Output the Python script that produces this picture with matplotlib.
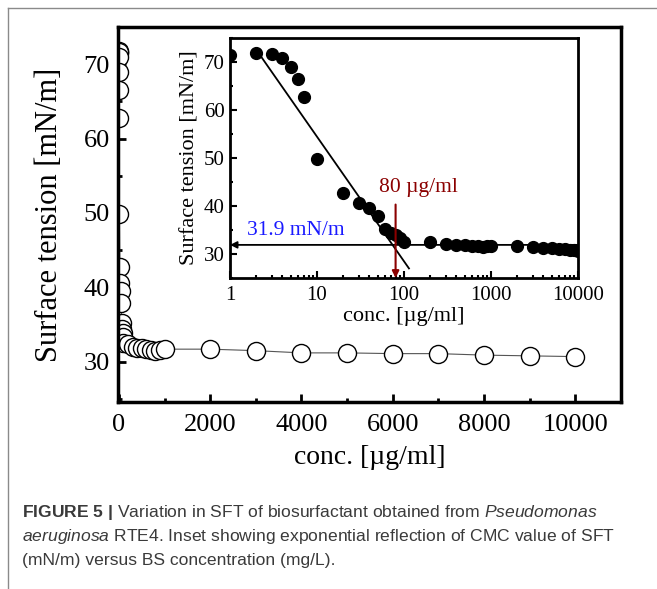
import matplotlib
matplotlib.use('Agg')
import matplotlib.pyplot as plt
from matplotlib import font_manager
from matplotlib.lines import Line2D
from matplotlib.ticker import MultipleLocator, LogLocator, NullFormatter, FixedLocator

# surface tension vs. biosurfactant concentration
conc = [1, 2, 3, 4, 5, 6, 7, 10, 20, 30, 40, 50, 60, 70, 80, 90, 100,
        200, 300, 400, 500, 600, 700, 800, 900, 1000,
        2000, 3000, 4000, 5000, 6000, 7000, 8000, 9000, 10000]
sft = [71.5, 71.8, 71.7, 70.9, 68.9, 66.5, 62.8, 49.8, 42.7, 40.6, 39.5, 37.9, 35.2, 34.4, 33.9, 33.4, 32.5,
       32.4, 32.0, 31.8, 31.8, 31.7, 31.6, 31.4, 31.6, 31.7,
       31.7, 31.5, 31.2, 31.2, 31.1, 31.1, 30.9, 30.8, 30.7]

# linear fit in the inset (log x) and the CMC markers
fit_x = [2.2, 114]
fit_y = [71.5, 27.0]
cmc_conc = 80
cmc_sft = 31.9

main_xticks = [0, 2000, 4000, 6000, 8000, 10000]
main_yticks = [30, 40, 50, 60, 70]

names = {f.name for f in font_manager.fontManager.ttflist}
serif = 'Liberation Serif' if 'Liberation Serif' in names else 'DejaVu Serif'
cap_font = 'Liberation Sans'

plt.rcParams['font.family'] = serif
plt.rcParams['mathtext.fontset'] = 'custom'
plt.rcParams['mathtext.rm'] = cap_font
plt.rcParams['mathtext.it'] = cap_font + ':italic'
plt.rcParams['mathtext.bf'] = cap_font + ':bold'

fig = plt.figure(figsize=(6.57, 5.89), dpi=100)

# panel frame (top and left edges)
fig.add_artist(Line2D([8 / 657, 1], [1 - 8 / 589, 1 - 8 / 589], transform=fig.transFigure, color='#8a8a8a', lw=1))
fig.add_artist(Line2D([8 / 657, 8 / 657], [0, 1 - 8 / 589], transform=fig.transFigure, color='#8a8a8a', lw=1))

# main plot
ax = fig.add_axes([0.1796, 0.3175, 0.7656, 0.6367])
ax.plot(conc, sft, '-', color='#555555', lw=0.8, marker='o', ms=13,
        mfc='white', mec='black', mew=1.0)
ax.set_xlim(-20, 11000)
ax.set_ylim(24.6, 75)
ax.xaxis.set_major_locator(FixedLocator(main_xticks))
ax.xaxis.set_minor_locator(MultipleLocator(1000))
ax.yaxis.set_major_locator(FixedLocator(main_yticks))
ax.yaxis.set_minor_locator(MultipleLocator(5))
ax.tick_params(which='both', direction='in', width=2, labelsize=19)
ax.tick_params(axis='x', pad=9)
ax.tick_params(axis='y', pad=6)
ax.tick_params(which='major', length=6)
ax.tick_params(which='minor', length=3)
for s in ax.spines.values():
    s.set_linewidth(2.5)
ax.set_xlabel('conc. [µg/ml]', fontsize=20, labelpad=6)
ax.set_ylabel('Surface tension [mN/m]', fontsize=22, labelpad=14)

# inset (log scale)
ins = fig.add_axes([0.3501, 0.528, 0.5297, 0.4075])
ins.plot(conc, sft, 'o', color='black', ms=8.5, clip_on=True)
ins.plot(fit_x, fit_y, '-', color='black', lw=1.3)
ins.annotate('', xy=(1, cmc_sft), xytext=(10000, cmc_sft),
             arrowprops=dict(arrowstyle='-|>', color='black', lw=1.3, mutation_scale=10,
                             shrinkA=0, shrinkB=0))
ins.annotate('', xy=(cmc_conc, 25), xytext=(cmc_conc, 40.3),
             arrowprops=dict(arrowstyle='-|>', color='#8b0000', lw=1.5, mutation_scale=10,
                             shrinkA=0, shrinkB=0))
ins.text(51, 43.9, '80 µg/ml', color='#8b0000', fontsize=15.5, ha='left', va='center')
ins.text(1.55, 35.0, '31.9 mN/m', color='#1a1aff', fontsize=15.5, ha='left', va='center')
ins.set_xscale('log')
ins.set_xlim(1, 10000)
ins.set_ylim(25, 75)
ins.xaxis.set_minor_locator(LogLocator(base=10, subs=range(2, 10), numticks=10))
ins.xaxis.set_minor_formatter(NullFormatter())
ins.set_xticks([1, 10, 100, 1000, 10000], ['1', '10', '100', '1000', '10000'])
ins.yaxis.set_major_locator(FixedLocator(main_yticks))
ins.yaxis.set_minor_locator(MultipleLocator(5))
ins.tick_params(which='both', direction='in', width=1.5, labelsize=15)
ins.tick_params(axis='x', pad=6)
ins.tick_params(axis='y', pad=4)
ins.tick_params(which='major', length=5)
ins.tick_params(which='minor', length=2.5)
for s in ins.spines.values():
    s.set_linewidth(2)
ins.set_xlabel('conc. [µg/ml]', fontsize=16, labelpad=1)
ins.set_ylabel('Surface tension [mN/m]', fontsize=16, labelpad=3)

# caption
cap = [
    r'$\mathbf{FIGURE\ 5\ |}$ Variation in SFT of biosurfactant obtained from $\mathit{Pseudomonas}$',
    r'$\mathit{aeruginosa}$ RTE4. Inset showing exponential reflection of CMC value of SFT',
    r'(mN/m) versus BS concentration (mg/L).',
]
for i, line in enumerate(cap):
    fig.text(22 / 657, 1 - (513 + 24 * i) / 589, line, family=cap_font, fontsize=12.6,
             color='#3a3a3a', ha='left', va='center')

fig.savefig('out.png', dpi=100)
